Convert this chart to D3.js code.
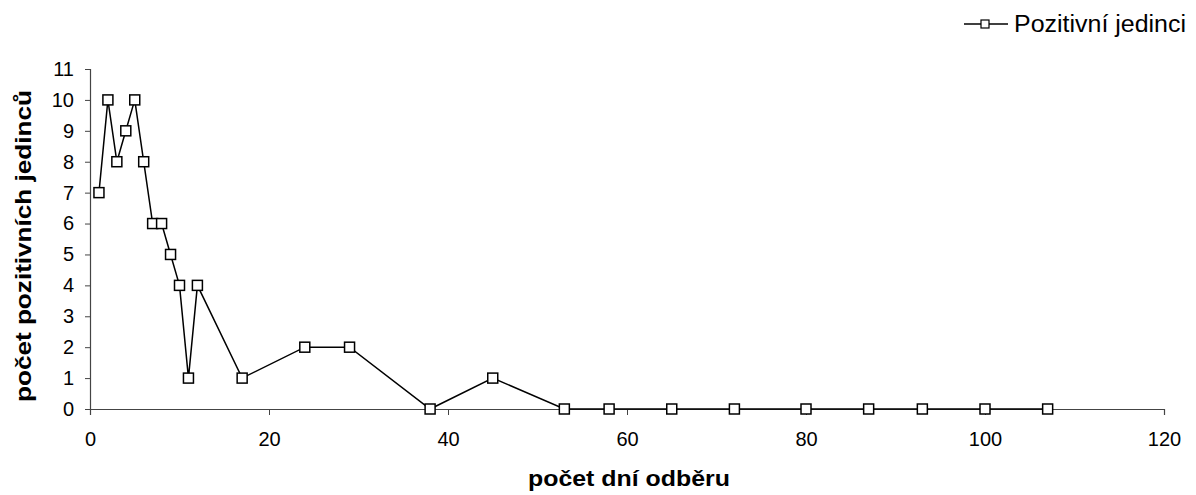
<!DOCTYPE html>
<html>
<head>
<meta charset="utf-8">
<script src="https://cdn.jsdelivr.net/npm/d3@7"></script>
<style>
  body { margin: 0; background: #fff; }
  svg { font-family: "Liberation Sans", Arial, sans-serif; }
</style>
</head>
<body>
<svg id="chart" width="1196" height="495"></svg>
<script>
// data
var days = [1, 2, 3, 4, 5, 6, 7, 8, 9, 10, 11, 12, 17, 24, 29, 38, 45, 53, 58, 65, 72, 80, 87, 93, 100, 107];
var positives = [7, 10, 8, 9, 10, 8, 6, 6, 5, 4, 1, 4, 1, 2, 2, 0, 1, 0, 0, 0, 0, 0, 0, 0, 0, 0];
var xTicks = [0, 20, 40, 60, 80, 100, 120];
var yTicks = [0, 1, 2, 3, 4, 5, 6, 7, 8, 9, 10, 11];
var seriesName = "Pozitivní jedinci";

var svg = d3.select("#chart");
var x = d3.scaleLinear().domain([0, 120]).range([90, 1164]);
var y = d3.scaleLinear().domain([0, 11]).range([409, 69]);

// y axis
var yAxis = svg.append("g")
  .attr("transform", "translate(90,0)")
  .call(d3.axisLeft(y).tickValues(yTicks).tickSize(5).tickPadding(11));
yAxis.select(".domain").attr("stroke", "#444").attr("stroke-width", 1.2);
yAxis.selectAll(".tick line").attr("stroke", "#444");
yAxis.selectAll("text").attr("font-size", 20).attr("fill", "#000")
  .style("font-family", "Liberation Sans, Arial, sans-serif");

// x axis
var xAxis = svg.append("g")
  .attr("transform", "translate(0,409)")
  .call(d3.axisBottom(x).tickValues(xTicks).tickSize(6).tickPadding(17));
xAxis.select(".domain").attr("stroke", "#444").attr("stroke-width", 1.2);
xAxis.selectAll(".tick line").attr("stroke", "#444");
xAxis.selectAll("text").attr("font-size", 20).attr("fill", "#000")
  .style("font-family", "Liberation Sans, Arial, sans-serif");

// axis titles
svg.append("text")
  .attr("x", 629).attr("y", 486)
  .attr("text-anchor", "middle")
  .attr("font-size", 22).attr("font-weight", "bold")
  .attr("textLength", 202).attr("lengthAdjust", "spacingAndGlyphs")
  .text("počet dní odběru");

svg.append("text")
  .attr("transform", "translate(31,246) rotate(-90)")
  .attr("text-anchor", "middle")
  .attr("font-size", 22).attr("font-weight", "bold")
  .attr("textLength", 312).attr("lengthAdjust", "spacingAndGlyphs")
  .text("počet pozitivních jedinců");

// series
var pts = days.map(function(d, i) { return [d, positives[i]]; });
var line = d3.line().x(function(d) { return x(d[0]); }).y(function(d) { return y(d[1]); });

svg.append("path")
  .datum(pts)
  .attr("d", line)
  .attr("fill", "none")
  .attr("stroke", "#000")
  .attr("stroke-width", 1.5);

svg.append("g")
  .selectAll("rect")
  .data(pts)
  .enter()
  .append("rect")
  .attr("x", function(d) { return x(d[0]) - 5; })
  .attr("y", function(d) { return y(d[1]) - 5; })
  .attr("width", 10)
  .attr("height", 10)
  .attr("fill", "#fff")
  .attr("stroke", "#000")
  .attr("stroke-width", 1.5);

// legend
var lg = svg.append("g").attr("transform", "translate(964,24)");
lg.append("line").attr("x1", 0).attr("x2", 44).attr("y1", 0).attr("y2", 0)
  .attr("stroke", "#000").attr("stroke-width", 1.5);
lg.append("rect").attr("x", 17).attr("y", -4).attr("width", 8).attr("height", 8)
  .attr("fill", "#fff").attr("stroke", "#000").attr("stroke-width", 1.2);
lg.append("text").attr("x", 50).attr("y", 8)
  .attr("font-size", 23)
  .attr("textLength", 172).attr("lengthAdjust", "spacingAndGlyphs")
  .text(seriesName);
</script>
</body>
</html>
